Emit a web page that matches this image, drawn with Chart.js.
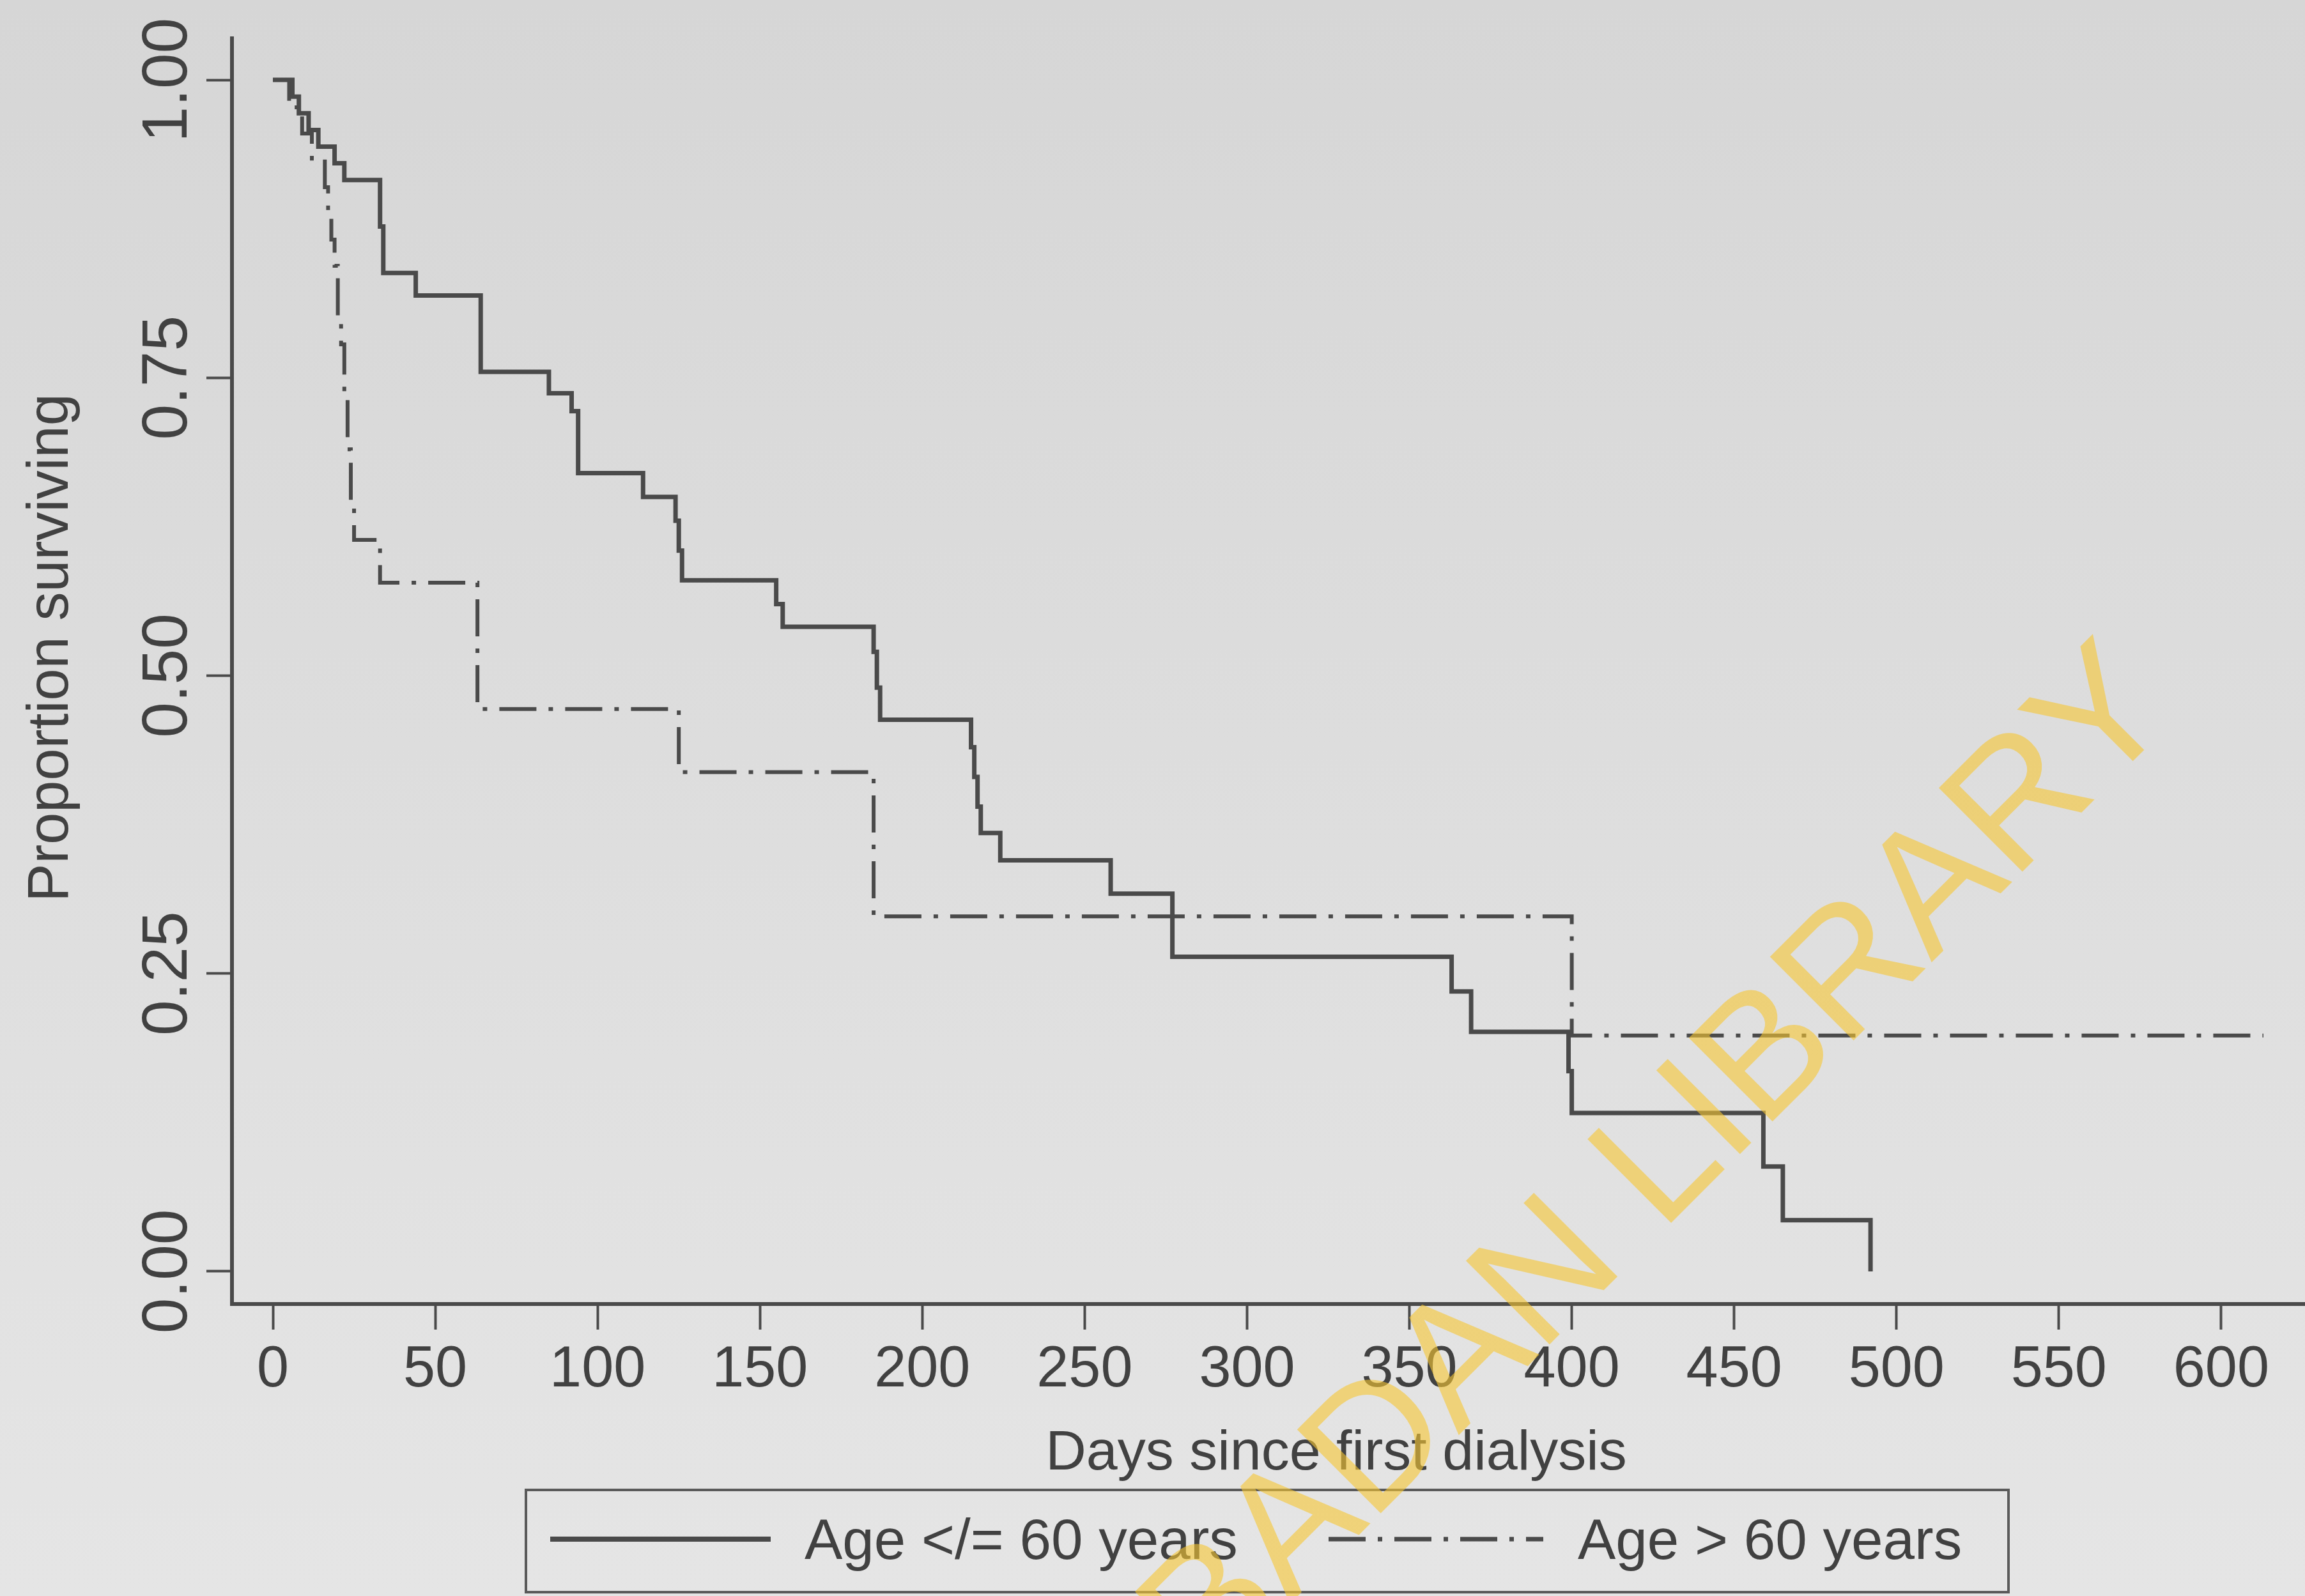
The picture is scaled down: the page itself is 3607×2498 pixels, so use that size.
<!DOCTYPE html>
<html>
<head>
<meta charset="utf-8">
<script src="https://cdn.jsdelivr.net/npm/chart.js@4.4.1/dist/chart.umd.min.js"></script>
<style>
  html, body { margin: 0; padding: 0; background: #dcdcdc; }
</style>
</head>
<body>
<canvas id="km" width="3607" height="2498"></canvas>
<script>
// Kaplan-Meier steps: day of event, survival after it
const daysYoung = [0, 6, 8, 11, 14, 19, 22, 33, 34, 44, 64, 85, 92, 94, 114, 124, 125, 126, 155, 157, 185, 186, 187, 215, 216, 217, 218, 224, 258, 277, 363, 369, 399, 400, 459, 465, 492];
const survYoung = [1.0, 0.986, 0.972, 0.958, 0.944, 0.93, 0.916, 0.877, 0.838, 0.819, 0.755, 0.737, 0.722, 0.670, 0.650, 0.63, 0.605, 0.58, 0.56, 0.541, 0.52, 0.49, 0.463, 0.44, 0.415, 0.39, 0.368, 0.345, 0.317, 0.264, 0.235, 0.201, 0.168, 0.133, 0.088, 0.043, 0.0];
const daysOld = [0, 5, 9, 12, 16, 17, 18, 19, 20, 21, 22, 23, 24, 25, 33, 63, 125, 185, 400, 613];
const survOld = [1.0, 0.977, 0.955, 0.934, 0.91, 0.888, 0.866, 0.844, 0.80, 0.778, 0.734, 0.69, 0.645, 0.614, 0.578, 0.472, 0.419, 0.298, 0.198, 0.198];

const xTicks = [0, 50, 100, 150, 200, 250, 300, 350, 400, 450, 500, 550, 600];
const yTicks = [0, 0.25, 0.5, 0.75, 1];
const seriesNames = ['Age </= 60 years', 'Age > 60 years'];

const ink = '#4a4a4a';
const textInk = '#414141';
const face = '"Liberation Sans", Arial, sans-serif';
const dashDot = [58, 19, 7, 19];

const toPoints = (xs, ys) => xs.map((d, i) => ({ x: d, y: ys[i] }));

// scanned paper background
const paper = {
  id: 'paper',
  beforeDraw(chart) {
    const { ctx, width, height } = chart;
    const g = ctx.createLinearGradient(0, 0, 0, height);
    g.addColorStop(0, '#d6d6d6');
    g.addColorStop(1, '#e5e5e5');
    ctx.save();
    ctx.fillStyle = g;
    ctx.fillRect(0, 0, width, height);
    ctx.restore();
  }
};

// rotated y tick labels and both axis titles
const labels = {
  id: 'labels',
  afterDraw(chart) {
    const { ctx } = chart;
    const y = chart.scales.y;
    ctx.save();
    ctx.fillStyle = textInk;
    ctx.font = `100px ${face}`;
    ctx.textAlign = 'center';
    ctx.textBaseline = 'alphabetic';
    y.ticks.forEach(t => {
      ctx.save();
      ctx.translate(292, y.getPixelForValue(t.value));
      ctx.rotate(-Math.PI / 2);
      ctx.fillText(t.value.toFixed(2), 0, 0);
      ctx.restore();
    });
    ctx.font = `90px ${face}`;
    ctx.save();
    ctx.translate(106, 1014);
    ctx.rotate(-Math.PI / 2);
    ctx.fillText('Proportion surviving', 0, 0);
    ctx.restore();
    ctx.font = `88px ${face}`;
    ctx.fillText('Days since first dialysis', 2091, 2300);
    ctx.restore();
  }
};

// boxed legend under the x axis title
const legendBox = {
  id: 'legendBox',
  afterDraw(chart) {
    const { ctx } = chart;
    const sets = chart.data.datasets;
    ctx.save();
    ctx.strokeStyle = '#5a5a5a';
    ctx.lineWidth = 4;
    ctx.strokeRect(823, 2332, 3143 - 823, 2492 - 2332);
    const items = [
      { x0: 861, x1: 1206, tx: 1259 },
      { x0: 2079, x1: 2415, tx: 2469 }
    ];
    items.forEach((it, i) => {
      const ds = sets[i];
      ctx.strokeStyle = ds.borderColor;
      ctx.lineWidth = ds.borderWidth + 1;
      ctx.setLineDash(ds.borderDash || []);
      ctx.beginPath();
      ctx.moveTo(it.x0, 2409);
      ctx.lineTo(it.x1, 2409);
      ctx.stroke();
      ctx.setLineDash([]);
      ctx.fillStyle = textInk;
      ctx.font = `89px ${face}`;
      ctx.textAlign = 'left';
      ctx.textBaseline = 'alphabetic';
      ctx.fillText(ds.label, it.tx, 2440);
    });
    ctx.restore();
  }
};

// library stamp across the scan
const watermark = {
  id: 'watermark',
  afterDraw(chart) {
    const { ctx } = chart;
    ctx.save();
    ctx.translate(3410, 1119);
    ctx.rotate(-Math.PI / 4);
    ctx.font = `269px ${face}`;
    ctx.fillStyle = 'rgba(246, 198, 50, 0.6)';
    ctx.textAlign = 'right';
    ctx.textBaseline = 'alphabetic';
    ctx.fillText('IBADAN LIBRARY', 0, 0);
    ctx.restore();
  }
};

const ctx = document.getElementById('km').getContext('2d');
const kmChart = new Chart(ctx, {
  type: 'line',
  data: {
    datasets: [
      {
        label: seriesNames[0],
        data: toPoints(daysYoung, survYoung),
        borderColor: ink,
        borderWidth: 7,
        stepped: 'before',
        pointRadius: 0,
        fill: false
      },
      {
        label: seriesNames[1],
        data: toPoints(daysOld, survOld),
        borderColor: ink,
        borderWidth: 6,
        borderDash: dashDot,
        stepped: 'before',
        pointRadius: 0,
        fill: false
      }
    ]
  },
  options: {
    responsive: false,
    animation: false,
    devicePixelRatio: 1,
    layout: { padding: { top: 60, right: 0, bottom: 0, left: 0 } },
    plugins: {
      legend: { display: false },
      tooltip: { enabled: false }
    },
    scales: {
      x: {
        type: 'linear',
        min: -12.6,
        max: 625.8,
        afterBuildTicks: s => { s.ticks = xTicks.map(v => ({ value: v })); },
        afterFit: s => { s.height = 2498 - 2041; },
        grid: { drawOnChartArea: false, drawTicks: true, tickLength: 40, tickWidth: 4, color: ink },
        border: { display: true, color: ink, width: 6 },
        ticks: {
          font: { family: face, size: 90 },
          color: textInk,
          padding: 10,
          maxRotation: 0,
          autoSkip: false,
          callback: v => String(v)
        }
      },
      y: {
        type: 'linear',
        min: -0.0274,
        max: 1.0349,
        afterBuildTicks: s => { s.ticks = yTicks.map(v => ({ value: v })); },
        afterFit: s => { s.width = 363; },
        grid: { drawOnChartArea: false, drawTicks: true, tickLength: 40, tickWidth: 4, color: ink },
        border: { display: true, color: ink, width: 6 },
        ticks: { display: false }
      }
    }
  },
  plugins: [paper, labels, legendBox, watermark]
});
</script>
</body>
</html>
